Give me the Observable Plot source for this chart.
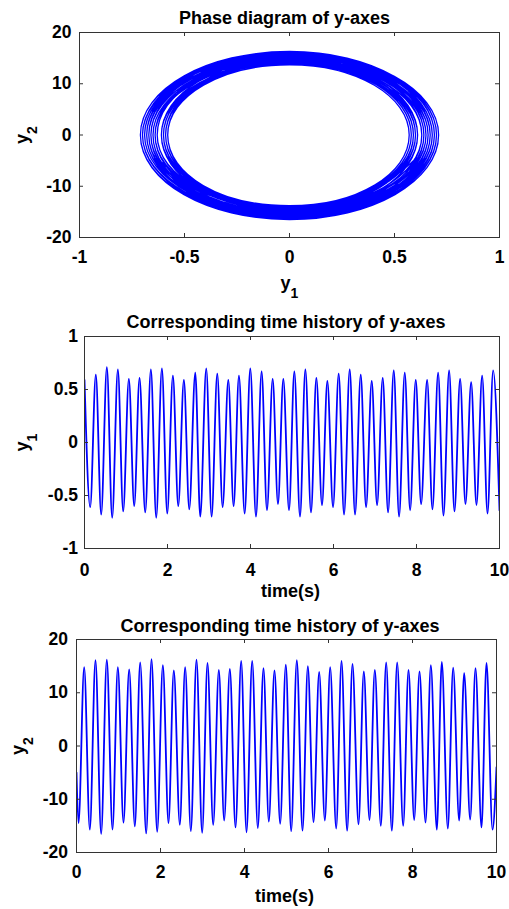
<!DOCTYPE html>
<html>
<head>
<meta charset="utf-8">
<script src="https://cdn.jsdelivr.net/npm/d3@7"></script>
<script src="https://cdn.jsdelivr.net/npm/@observablehq/plot@0.6"></script>
<style>
  html, body { margin: 0; padding: 0; background: #fff; }
  body { width: 509px; height: 909px; position: relative; overflow: hidden; }
  .panel { position: absolute; left: 0; }
</style>
</head>
<body>
<div id="p1" class="panel" style="top:0px"></div>
<div id="p2" class="panel" style="top:300px"></div>
<div id="p3" class="panel" style="top:600px"></div>
<script>
// ---- y1(t): extremes ----
const y1Start = [0, 0.59];
const y1End = [10, -0.64];
const y1PeakTime = [0.273,0.539,0.804,1.069,1.326,1.600,1.865,2.130,2.395,2.669,2.934,3.199,3.465,3.722,3.995,4.268,4.534,4.791,5.056,5.322,5.587,5.852,6.125,6.391,6.656,6.921,7.186,7.452,7.717,7.982,8.256,8.521,8.786,9.051,9.317,9.582,9.847];
const y1PeakValue = [0.64,0.71,0.69,0.60,0.61,0.69,0.70,0.63,0.59,0.66,0.70,0.65,0.59,0.63,0.70,0.67,0.60,0.60,0.67,0.69,0.61,0.58,0.65,0.69,0.64,0.58,0.61,0.68,0.66,0.59,0.59,0.66,0.68,0.60,0.57,0.63,0.68];
const y1TroughTime = [0.137,0.402,0.667,0.932,1.198,1.463,1.728,1.994,2.259,2.524,2.789,3.063,3.328,3.593,3.859,4.132,4.397,4.662,4.928,5.193,5.458,5.723,5.989,6.254,6.519,6.785,7.050,7.315,7.580,7.846,8.111,8.384,8.650,8.915,9.180,9.445,9.711];
const y1TroughValue = [-0.61,-0.68,-0.71,-0.65,-0.60,-0.66,-0.71,-0.67,-0.60,-0.63,-0.70,-0.70,-0.61,-0.60,-0.67,-0.70,-0.64,-0.58,-0.64,-0.70,-0.66,-0.59,-0.61,-0.68,-0.68,-0.61,-0.59,-0.66,-0.70,-0.64,-0.58,-0.63,-0.69,-0.65,-0.58,-0.59,-0.67];

// ---- y2(t): extremes ----
const y2Start = [0, -5];
const y2End = [10, -4];
const y2PeakTime = [0.183,0.452,0.722,0.984,1.254,1.516,1.786,2.056,2.317,2.587,2.857,3.119,3.389,3.651,3.921,4.183,4.452,4.714,4.984,5.246,5.508,5.778,6.040,6.310,6.571,6.841,7.103,7.373,7.635,7.905,8.167,8.437,8.698,8.968,9.230,9.500,9.762];
const y2PeakValue = [14.8,16.1,16.2,14.8,14.4,15.7,16.3,15.2,14.2,14.8,16.2,15.6,14.3,14.5,16.0,16.0,14.6,14.2,15.3,16.1,15.0,13.9,14.8,16.0,15.4,14.0,14.3,15.7,15.7,14.3,14.0,15.2,15.8,14.7,13.7,14.6,15.6];
const y2TroughTime = [0.048,0.317,0.587,0.857,1.119,1.389,1.659,1.921,2.190,2.460,2.722,2.992,3.254,3.516,3.786,4.048,4.317,4.579,4.849,5.111,5.381,5.643,5.913,6.183,6.444,6.714,6.976,7.246,7.508,7.778,8.040,8.310,8.579,8.841,9.111,9.373,9.643,9.905];
const y2TroughValue = [-14.5,-15.7,-16.5,-15.7,-14.4,-15.1,-16.4,-16.1,-14.5,-14.8,-16.0,-16.3,-14.8,-14.0,-15.3,-16.2,-15.4,-14.2,-14.6,-16.0,-15.9,-14.3,-14.0,-15.5,-15.9,-14.7,-13.9,-15.0,-15.9,-15.0,-13.9,-14.4,-15.7,-15.5,-14.0,-13.8,-15.3,-15.7];

// ---- axes / text ----
const phaseTitle = "Phase diagram of y-axes";
const timeTitle = "Corresponding time history of y-axes";
const timeLabel = "time(s)";
const phaseXTicks = [-1, -0.5, 0, 0.5, 1];
const phaseYTicks = [-20, -10, 0, 10, 20];
const timeTicks = [0, 2, 4, 6, 8, 10];
const y1Ticks = [-1, -0.5, 0, 0.5, 1];
const y2Ticks = [-20, -10, 0, 10, 20];

// ---- tables built from the arrays ----
function series(start, end, pt, pv, tt, tv) {
  const rows = [{t: start[0], v: start[1]}];
  pt.forEach((t, i) => rows.push({t, v: pv[i]}));
  tt.forEach((t, i) => rows.push({t, v: tv[i]}));
  rows.push({t: end[0], v: end[1]});
  return rows.sort((a, b) => a.t - b.t);
}
const y1Series = series(y1Start, y1End, y1PeakTime, y1PeakValue, y1TroughTime, y1TroughValue);
const y2Series = series(y2Start, y2End, y2PeakTime, y2PeakValue, y2TroughTime, y2TroughValue);

const phase = [{a: y1Start[1], b: y2Start[1]}];
for (let i = 0; i < y1PeakValue.length; i++) {
  phase.push({a: 0, b: y2TroughValue[i]});
  phase.push({a: y1TroughValue[i], b: 0});
  phase.push({a: 0, b: y2PeakValue[i]});
  phase.push({a: y1PeakValue[i], b: 0});
}
phase.push({a: 0, b: y2TroughValue[y2TroughValue.length - 1]});
phase.push({a: y1End[1], b: y2End[1]});

const FONT = "'Liberation Sans', Arial, Helvetica, sans-serif";
const AX = "#333333";

function panel(o) {
  const ph = o.height - o.mt - o.mb;
  const pw = 509 - o.ml - o.mr;
  const marks = [
    Plot.line(o.data, {x: o.x, y: o.y, stroke: "#0000ff", strokeWidth: o.sw, curve: o.curve, tension: o.tension, clip: true}),
    Plot.frame({stroke: AX, strokeWidth: 1}),
    Plot.tickX(o.xTicks, {x: d => d, insetTop: ph - 4, stroke: AX}),
    Plot.tickX(o.xTicks, {x: d => d, insetBottom: ph - 4, stroke: AX}),
    Plot.tickY(o.yTicks, {y: d => d, insetRight: pw - 4, stroke: AX}),
    Plot.tickY(o.yTicks, {y: d => d, insetLeft: pw - 4, stroke: AX}),
    Plot.axisX(o.xTicks, {tickSize: 0, tickPadding: o.xpad, tickFormat: d => String(d), fontSize: 17.5, fontWeight: "bold", fill: "#000", label: null}),
    Plot.axisY(o.yTicks, {tickSize: 0, tickPadding: o.ypad, tickFormat: d => String(d), fontSize: 17.5, fontWeight: "bold", fill: "#000", label: null}),
    Plot.text([o.title], {text: d => d, frameAnchor: "top", lineAnchor: "bottom", dy: o.tdy, dx: o.tdx, fontSize: 18, fontWeight: "bold", fill: "#000"}),
    // y label with subscript (rotated)
    Plot.text([o.yl[0]], {text: d => d, frameAnchor: "left", rotate: -90, textAnchor: "end", lineAnchor: "bottom", dx: o.ylx, dy: -1, fontSize: 18, fontWeight: "bold", fill: "#000"}),
    Plot.text([o.yl[1]], {text: d => d, frameAnchor: "left", rotate: -90, textAnchor: "start", lineAnchor: "bottom", dx: o.ylx + 9, dy: -1, fontSize: 14, fontWeight: "bold", fill: "#000"})
  ];
  if (o.xsub) {
    marks.push(Plot.text([o.xl], {text: d => d, frameAnchor: "bottom", textAnchor: "end", lineAnchor: "bottom", dy: o.xldy, dx: o.xldx, fontSize: 18, fontWeight: "bold", fill: "#000"}));
    marks.push(Plot.text([o.xsub], {text: d => d, frameAnchor: "bottom", textAnchor: "start", lineAnchor: "bottom", dy: o.xldy + 9, dx: o.xldx, fontSize: 14, fontWeight: "bold", fill: "#000"}));
  } else {
    marks.push(Plot.text([o.xl], {text: d => d, frameAnchor: "bottom", lineAnchor: "bottom", dy: o.xldy, dx: o.xldx, fontSize: 18, fontWeight: "bold", fill: "#000"}));
  }
  return Plot.plot({
    width: 509, height: o.height,
    marginLeft: o.ml, marginRight: o.mr, marginTop: o.mt, marginBottom: o.mb,
    style: {fontFamily: FONT, background: "transparent", overflow: "visible"},
    x: {domain: o.xDomain},
    y: {domain: o.yDomain},
    marks
  });
}

document.getElementById("p1").append(panel({
  data: phase, x: "a", y: "b", sw: 1.3, curve: "cardinal", tension: -0.66,
  height: 300, mt: 32, mb: 63, ml: 79, mr: 10,
  xDomain: [-1, 1], yDomain: [-20, 20], xTicks: phaseXTicks, yTicks: phaseYTicks,
  xpad: 13, ypad: 8, title: phaseTitle, tdy: -9, tdx: -5,
  yl: ["y", "2"], ylx: -51.5, xl: "y", xsub: "1", xldy: 51, xldx: 1
}));

document.getElementById("p2").append(panel({
  data: y1Series, x: "t", y: "v", sw: 1.8, curve: "monotone-x",
  height: 300, mt: 36, mb: 52, ml: 84, mr: 10,
  xDomain: [0, 10], yDomain: [-1, 1], xTicks: timeTicks, yTicks: y1Ticks,
  xpad: 15, ypad: 6.5, title: timeTitle, tdy: -8.7, tdx: -6,
  yl: ["y", "1"], ylx: -56.5, xl: timeLabel, xldy: 48.5, xldx: -1.5
}));

document.getElementById("p3").append(panel({
  data: y2Series, x: "t", y: "v", sw: 1.8, curve: "monotone-x",
  height: 309, mt: 39, mb: 57, ml: 76, mr: 13,
  xDomain: [0, 10], yDomain: [-20, 20], xTicks: timeTicks, yTicks: y2Ticks,
  xpad: 13.3, ypad: 8.5, title: timeTitle, tdy: -7.6, tdx: -6.5,
  yl: ["y", "2"], ylx: -52.5, xl: timeLabel, xldy: 49, xldx: -2
}));
</script>
</body>
</html>
